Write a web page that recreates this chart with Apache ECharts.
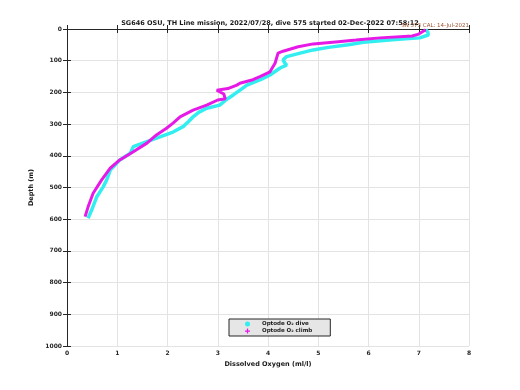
<!DOCTYPE html>
<html><head><meta charset="utf-8">
<script src="https://cdn.jsdelivr.net/npm/echarts@6/dist/echarts.min.js"></script>
<style>html,body{margin:0;padding:0;background:#fff}#c{width:520px;height:390px}</style>
</head><body><div id="c"></div>
<script>
// Dive (cyan) profile: depth (m) and dissolved oxygen (ml/l)
var diveDepth = [2,10,19,28,32,36,42,50,58,66,76,87,98,106,114,123,145,160,177,192,208,225,240,250,263,277,292,308,325,340,355,371,392,413,430,445,476,498,530,571,597];
var diveO2    = [7.14,7.18,7.19,7.02,6.6,6.3,5.9,5.6,5.2,4.9,4.64,4.37,4.30,4.33,4.37,4.24,4.04,3.85,3.58,3.45,3.31,3.15,3.04,2.78,2.62,2.51,2.42,2.31,2.11,1.85,1.59,1.32,1.26,1.05,0.95,0.86,0.79,0.72,0.59,0.49,0.42];
// Climb (magenta) profile, from the bottom upward
var climbDepth = [592,561,518,476,439,413,387,360,334,313,297,277,256,240,224,220,205,193,188,177,171,160,150,135,108,76,70,56,47,40,35,28,22,16,8,3];
var climbO2    = [0.36,0.42,0.52,0.69,0.86,1.05,1.32,1.59,1.78,1.98,2.11,2.25,2.51,2.78,3.0,3.15,3.12,2.98,3.2,3.38,3.44,3.7,3.84,4.04,4.14,4.2,4.3,4.6,4.9,5.4,5.75,6.23,6.87,7.0,7.08,7.14];
var xTicks = [0,1,2,3,4,5,6,7,8];
var yTicks = [0,100,200,300,400,500,600,700,800,900,1000];

function pairs(xs, ds){ return xs.map(function(v,i){ return [v, ds[i]]; }); }

var F = 'DejaVu Sans';
var chart = echarts.init(document.getElementById('c'), null, {renderer:'canvas'});
var axisLine = {show:true, lineStyle:{color:'#262626', width:1}};
var tick = {show:true, inside:true, length:4, lineStyle:{color:'#262626'}};
var lab = {color:'#262626', fontFamily:F, fontWeight:'bold', fontSize:6, formatter:function(v){ return String(v); }};
chart.setOption({
  animation:false,
  backgroundColor:'#fff',
  title:[{
    text:'SG646 OSU, TH Line mission, 2022/07/28, dive 575 started 02-Dec-2022 07:58:12',
    left:270, top:20, padding:0, textAlign:'center', z:1,
    textStyle:{fontFamily:F, fontWeight:'bold', fontSize:6.5, color:'#1a1a1a'}
  },{
    text:'SN 373 CAL: 14-Jul-2021',
    right:51, top:23, padding:0, z:20, zlevel:1,
    textStyle:{fontFamily:F, fontWeight:'normal', fontSize:5.5, color:'#a0522d'}
  }],
  grid:{left:67, right:51, top:29, bottom:44},
  legend:{
    orient:'vertical', left:229, top:319, width:79,
    backgroundColor:'#e6e6e6', borderColor:'#262626', borderWidth:1,
    padding:[2,18,2,16], itemGap:1, itemWidth:5, itemHeight:5,
    textStyle:{fontFamily:F, fontWeight:'bold', fontSize:5.5, color:'#1a1a1a', padding:[0,0,0,7]},
    data:[
      {name:'Optode O\u2082 dive', icon:'circle'},
      {name:'Optode O\u2082 climb', icon:'path://M3,0H5V3H8V5H5V8H3V5H0V3H3Z'}
    ]
  },
  xAxis:[{
    type:'value', min:0, max:8, interval:1, position:'bottom',
    name:'Dissolved Oxygen (ml/l)', nameLocation:'middle', nameGap:13,
    nameTextStyle:{fontFamily:F, fontWeight:'bold', fontSize:6.5, color:'#1a1a1a'},
    axisLine:axisLine, axisTick:tick,
    axisLabel:Object.assign({margin:4}, lab),
    splitLine:{show:true, lineStyle:{color:'#e3e3e3', width:1}}
  },{
    type:'value', min:0, max:8, interval:1, position:'top',
    axisLine:axisLine, axisTick:tick, axisLabel:{show:false}, splitLine:{show:false}
  }],
  yAxis:[{
    type:'value', min:0, max:1000, interval:100, inverse:true, position:'left',
    name:'Depth (m)', nameLocation:'middle', nameGap:20, nameRotate:90,
    nameTextStyle:{fontFamily:F, fontWeight:'bold', fontSize:6.5, color:'#1a1a1a'},
    axisLine:axisLine, axisTick:tick,
    axisLabel:Object.assign({margin:5}, lab),
    splitLine:{show:true, lineStyle:{color:'#e3e3e3', width:1}}
  },{
    type:'value', min:0, max:1000, interval:100, inverse:true, position:'right',
    axisLine:axisLine, axisTick:tick, axisLabel:{show:false}, splitLine:{show:false}
  }],
  series:[{
    name:'Optode O\u2082 dive', type:'line', data:pairs(diveO2, diveDepth),
    showSymbol:false, symbol:'circle', color:'#33eef0',
    lineStyle:{color:'#33eef0', width:3.5}, z:2
  },{
    name:'Optode O\u2082 climb', type:'line', data:pairs(climbO2, climbDepth),
    showSymbol:false, symbol:'circle', color:'#e619e6',
    lineStyle:{color:'#e619e6', width:3}, z:3
  }]
});
</script></body></html>
